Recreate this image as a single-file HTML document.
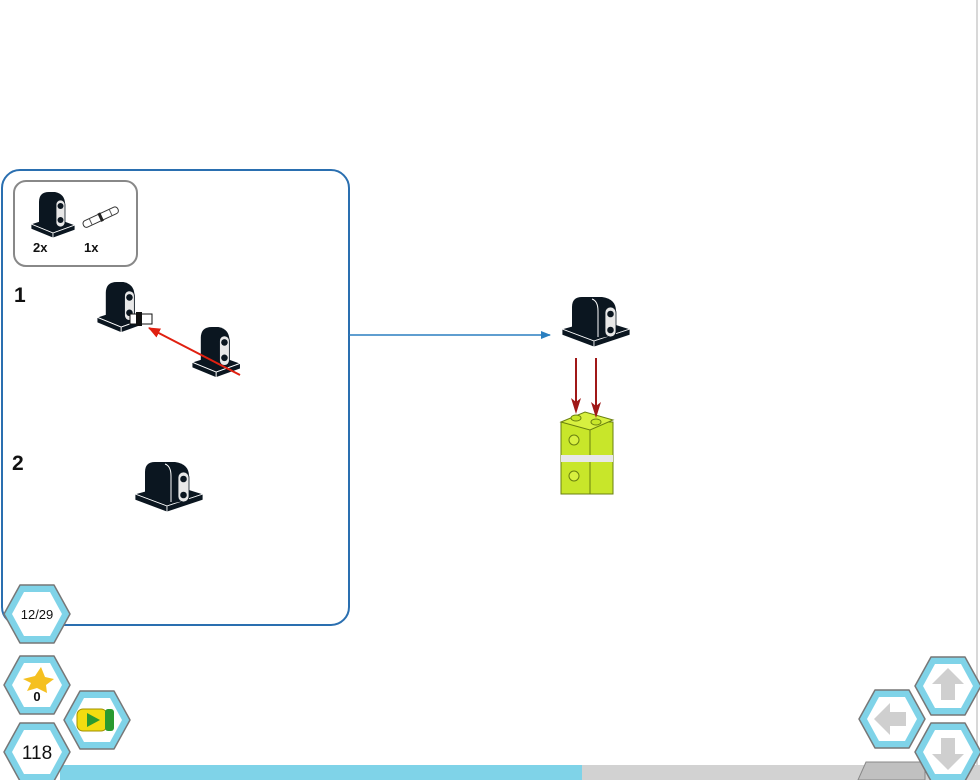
<!DOCTYPE html>
<html><head><style>
html,body{margin:0;padding:0;background:#fff;}
svg{display:block;}
text{font-family:"Liberation Sans",sans-serif;}
</style></head><body>
<svg width="980" height="780" viewBox="0 0 980 780" xmlns="http://www.w3.org/2000/svg">
<defs>
<g id="piece">
  <polygon points="0,32 22,25 44,33 22,41" fill="#0b1620" stroke="#fff" stroke-width="0.8"/>
  <polygon points="0,32 22,41 22,46 0,37" fill="#0b1620" stroke="#fff" stroke-width="0.8"/>
  <polygon points="22,41 44,33 44,38 22,46" fill="#0b1620" stroke="#fff" stroke-width="0.8"/>
  <path d="M8,31 L8,10 Q8,0 18,0 L24,0 Q34,2 34,12 L34,34 L22,38 Z" fill="#0b1620"/>
  <rect x="25" y="8" width="9" height="27" rx="4.5" fill="#e8e8e8" stroke="#0b1620" stroke-width="0.8"/>
  <circle cx="29.5" cy="14" r="3" fill="#0b1620"/>
  <circle cx="29.5" cy="28" r="3" fill="#0b1620"/>
</g>
<g id="dpiece">
  <polygon points="0,32 36,22 68,32 32,44" fill="#0b1620" stroke="#fff" stroke-width="0.8"/>
  <polygon points="0,32 32,44 32,50 0,38" fill="#0b1620" stroke="#fff" stroke-width="0.8"/>
  <polygon points="32,44 68,32 68,38 32,50" fill="#0b1620" stroke="#fff" stroke-width="0.8"/>
  <path d="M10,30 L10,10 Q10,0 20,0 L40,0 Q54,2 54,14 L54,38 L34,42 L10,34 Z" fill="#0b1620"/>
  <path d="M30,2 Q36,4 36,14 L36,40" stroke="#fff" stroke-width="1" fill="none"/>
  <rect x="43" y="10" width="11" height="30" rx="5.5" fill="#e8e8e8" stroke="#0b1620" stroke-width="0.8"/>
  <circle cx="48.5" cy="17" r="3.3" fill="#0b1620"/>
  <circle cx="48.5" cy="33" r="3.3" fill="#0b1620"/>
</g>
<marker id="ar" markerWidth="10" markerHeight="8" refX="9" refY="4" orient="auto" markerUnits="userSpaceOnUse"><path d="M0,0 L10,4 L0,8 Z" fill="#2a7fc0"/></marker>
<marker id="rr" markerWidth="12" markerHeight="10" refX="11" refY="5" orient="auto" markerUnits="userSpaceOnUse"><path d="M0,0 L12,5 L0,10 Z" fill="#e02010"/></marker>
</defs>

<line x1="977" y1="0" x2="977" y2="765" stroke="#d8d8d8" stroke-width="2"/>

<!-- panel -->
<rect x="2" y="170" width="347" height="455" rx="18" fill="#fff" stroke="#2a6fb0" stroke-width="2"/>
<line x1="349" y1="335" x2="550" y2="335" stroke="#2a7fc0" stroke-width="1.5" marker-end="url(#ar)"/>

<!-- parts box -->
<rect x="14" y="181" width="123" height="85" rx="12" fill="#fff" stroke="#888" stroke-width="2"/>
<use href="#piece" transform="translate(31,192) scale(1.0)"/>
<g transform="translate(82,222) rotate(-25)">
  <rect x="0" y="0" width="38" height="7" rx="3" fill="#fff" stroke="#333" stroke-width="1"/>
  <line x1="19" y1="-1" x2="19" y2="8" stroke="#222" stroke-width="3"/>
  <line x1="8" y1="0" x2="8" y2="7" stroke="#555" stroke-width="1"/>
  <line x1="30" y1="0" x2="30" y2="7" stroke="#555" stroke-width="1"/>
</g>
<text x="33" y="252" font-size="13" font-weight="bold" fill="#111">2x</text>
<text x="84" y="252" font-size="13" font-weight="bold" fill="#111">1x</text>

<text x="14" y="302" font-size="21" font-weight="bold" fill="#111">1</text>
<use href="#piece" transform="translate(97,282) scale(1.1)"/>
<rect x="130" y="314" width="22" height="10" fill="#fff" stroke="#111" stroke-width="1"/>
<rect x="136" y="312" width="6" height="14" fill="#111"/>
<use href="#piece" transform="translate(192,327) scale(1.1)"/>
<line x1="240" y1="375" x2="149" y2="328" stroke="#e02010" stroke-width="2" marker-end="url(#rr)"/>

<text x="12" y="470" font-size="21" font-weight="bold" fill="#111">2</text>
<use href="#dpiece" transform="translate(135,462)"/>

<!-- right assembly -->
<rect x="561" y="422" width="52" height="72" fill="#c8e62a" stroke="#6a8010" stroke-width="1"/>
<polygon points="561,422 585,412 613,420 590,430" fill="#d8f040" stroke="#6a8010" stroke-width="1"/>
<line x1="590" y1="430" x2="590" y2="494" stroke="#6a8010" stroke-width="1"/>
<rect x="561" y="455" width="52" height="7" fill="#e8e8e8"/>
<ellipse cx="576" cy="418" rx="5" ry="3" fill="#c8e62a" stroke="#6a8010"/>
<ellipse cx="596" cy="422" rx="5" ry="3" fill="#c8e62a" stroke="#6a8010"/>
<circle cx="574" cy="440" r="5" fill="#d8f040" stroke="#6a8010"/>
<circle cx="574" cy="476" r="5" fill="#d8f040" stroke="#6a8010"/>
<line x1="576" y1="358" x2="576" y2="402" stroke="#a01818" stroke-width="2"/>
<polygon points="571,398 576,414 581,398 576,402" fill="#a01818"/>
<line x1="596" y1="358" x2="596" y2="406" stroke="#a01818" stroke-width="2"/>
<polygon points="591,402 596,418 601,402 596,406" fill="#a01818"/>
<use href="#dpiece" transform="translate(562,297)"/>

<!-- bottom bar -->
<rect x="60" y="765" width="522" height="15" fill="#7fd3e8"/>
<rect x="582" y="765" width="398" height="15" fill="#d2d2d2"/>
<polygon points="858,780 866,762 925,762 925,780" fill="#c0c0c0" stroke="#888" stroke-width="1"/>

<!-- hexes -->
<g stroke-linejoin="round">
<g transform="translate(37,614)"><polygon points="-33,0 -17,-29 17,-29 33,0 17,29 -17,29" fill="#7fd3e8" stroke="#777" stroke-width="1.5"/><polygon points="-25,0 -13,-22 13,-22 25,0 13,22 -13,22" fill="#fff"/><text x="0" y="5" font-size="13" text-anchor="middle" fill="#111">12/29</text></g>
<g transform="translate(37,685)"><polygon points="-33,0 -17,-29 17,-29 33,0 17,29 -17,29" fill="#7fd3e8" stroke="#777" stroke-width="1.5"/><polygon points="-25,0 -13,-22 13,-22 25,0 13,22 -13,22" fill="#fff"/><polygon points="-14,-6 -2,-9 4,-18 8,-8 17,-6 9,0 10,8 0,3 -10,6 -6,-2" fill="#f5c020"/><text x="0" y="16" font-size="13" font-weight="bold" text-anchor="middle" fill="#111">0</text></g>
<g transform="translate(37,752)"><polygon points="-33,0 -17,-29 17,-29 33,0 17,29 -17,29" fill="#7fd3e8" stroke="#777" stroke-width="1.5"/><polygon points="-25,0 -13,-22 13,-22 25,0 13,22 -13,22" fill="#fff"/><text x="0" y="7" font-size="19" text-anchor="middle" fill="#111">118</text></g>
<g transform="translate(97,720)"><polygon points="-33,0 -17,-29 17,-29 33,0 17,29 -17,29" fill="#7fd3e8" stroke="#777" stroke-width="1.5"/><polygon points="-25,0 -13,-22 13,-22 25,0 13,22 -13,22" fill="#fff"/><rect x="-20" y="-11" width="30" height="22" rx="6" fill="#f2dc10" stroke="#a09000"/><rect x="8" y="-11" width="9" height="22" rx="3" fill="#2a9a30"/><polygon points="-10,-7 3,0 -10,7" fill="#2a9a30"/></g>
<g transform="translate(892,719)"><polygon points="-33,0 -17,-29 17,-29 33,0 17,29 -17,29" fill="#7fd3e8" stroke="#777" stroke-width="1.5"/><polygon points="-25,0 -13,-22 13,-22 25,0 13,22 -13,22" fill="#fff"/><polygon points="-18,0 -2,-16 -2,-7 14,-7 14,7 -2,7 -2,16" fill="#cfcfcf"/></g>
<g transform="translate(948,686)"><polygon points="-33,0 -17,-29 17,-29 33,0 17,29 -17,29" fill="#7fd3e8" stroke="#777" stroke-width="1.5"/><polygon points="-25,0 -13,-22 13,-22 25,0 13,22 -13,22" fill="#fff"/><polygon points="0,-18 16,-2 7,-2 7,14 -7,14 -7,-2 -16,-2" fill="#cfcfcf"/></g>
<g transform="translate(948,752)"><polygon points="-33,0 -17,-29 17,-29 33,0 17,29 -17,29" fill="#7fd3e8" stroke="#777" stroke-width="1.5"/><polygon points="-25,0 -13,-22 13,-22 25,0 13,22 -13,22" fill="#fff"/><polygon points="0,18 16,2 7,2 7,-14 -7,-14 -7,2 -16,2" fill="#cfcfcf"/></g>
</g>
</svg>
</body></html>
